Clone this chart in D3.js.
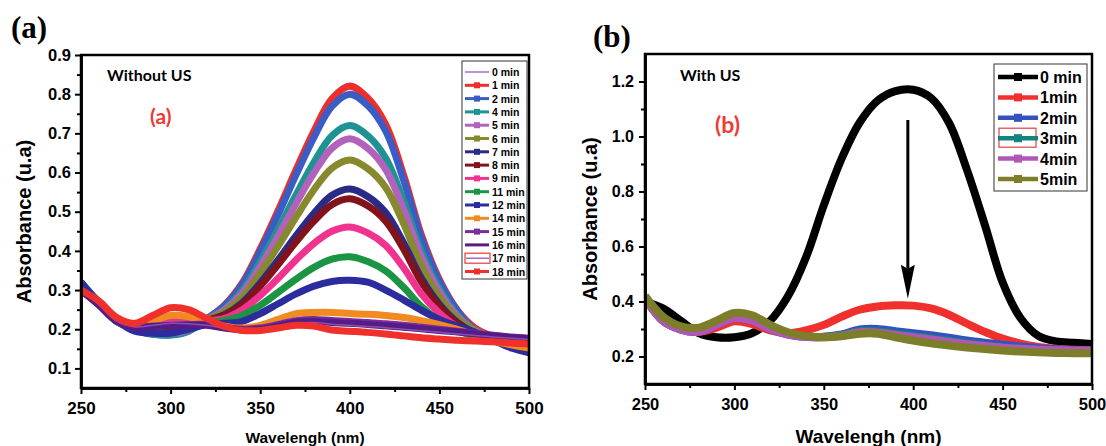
<!DOCTYPE html>
<html>
<head>
<meta charset="utf-8">
<script src="https://cdn.jsdelivr.net/npm/d3@7"></script>
<style>
body { margin: 0; background: #fff; }
svg { display: block; }
</style>
</head>
<body>
<div id="chart"></div>
<script>
const width = 1106, height = 446;

// wavelengths (nm) the curves are sampled at
const wavelengths = [250, 260, 270, 280, 290, 300, 310, 320, 330, 340, 350, 360, 370,
                     380, 390, 400, 410, 420, 430, 440, 450, 460, 470, 480, 490, 500];

// panel (a) without US - absorbance per time
const a00 = [0.31, 0.27, 0.226, 0.2, 0.19, 0.188, 0.198, 0.226, 0.263, 0.322, 0.41, 0.51, 0.615, 0.715, 0.797, 0.828, 0.798, 0.73, 0.6, 0.444, 0.33, 0.25, 0.204, 0.183, 0.175, 0.166];
const a01 = [0.305, 0.268, 0.225, 0.2, 0.19, 0.188, 0.198, 0.225, 0.261, 0.318, 0.405, 0.503, 0.607, 0.706, 0.788, 0.82, 0.79, 0.723, 0.594, 0.44, 0.327, 0.249, 0.203, 0.182, 0.174, 0.165];
const a02 = [0.32, 0.27, 0.225, 0.198, 0.187, 0.185, 0.195, 0.226, 0.259, 0.314, 0.398, 0.493, 0.594, 0.69, 0.769, 0.8, 0.771, 0.706, 0.581, 0.432, 0.322, 0.247, 0.195, 0.172, 0.158, 0.15];
const a04 = [0.31, 0.27, 0.225, 0.198, 0.188, 0.186, 0.196, 0.224, 0.252, 0.299, 0.372, 0.455, 0.543, 0.626, 0.694, 0.72, 0.694, 0.637, 0.528, 0.398, 0.303, 0.237, 0.198, 0.18, 0.172, 0.165];
const a05 = [0.31, 0.268, 0.225, 0.2, 0.19, 0.19, 0.198, 0.224, 0.249, 0.292, 0.36, 0.438, 0.521, 0.599, 0.662, 0.686, 0.662, 0.608, 0.506, 0.384, 0.295, 0.233, 0.196, 0.18, 0.172, 0.166];
const a06 = [0.305, 0.268, 0.225, 0.2, 0.192, 0.195, 0.2, 0.224, 0.244, 0.282, 0.343, 0.412, 0.486, 0.556, 0.611, 0.632, 0.61, 0.562, 0.47, 0.361, 0.282, 0.227, 0.194, 0.179, 0.172, 0.167];
const a07 = [0.305, 0.265, 0.222, 0.202, 0.2, 0.202, 0.205, 0.222, 0.237, 0.268, 0.318, 0.377, 0.439, 0.496, 0.542, 0.558, 0.539, 0.498, 0.421, 0.33, 0.264, 0.218, 0.19, 0.177, 0.17, 0.166];
const a08 = [0.3, 0.265, 0.222, 0.203, 0.202, 0.205, 0.208, 0.222, 0.235, 0.263, 0.31, 0.365, 0.423, 0.476, 0.518, 0.533, 0.515, 0.476, 0.405, 0.32, 0.258, 0.215, 0.189, 0.176, 0.17, 0.166];
const a09 = [0.3, 0.262, 0.22, 0.208, 0.215, 0.225, 0.222, 0.222, 0.228, 0.25, 0.286, 0.33, 0.377, 0.419, 0.45, 0.461, 0.446, 0.414, 0.357, 0.29, 0.241, 0.206, 0.185, 0.174, 0.169, 0.165];
const a11 = [0.3, 0.262, 0.22, 0.203, 0.205, 0.21, 0.212, 0.218, 0.222, 0.235, 0.261, 0.294, 0.328, 0.358, 0.379, 0.385, 0.373, 0.349, 0.307, 0.258, 0.222, 0.197, 0.181, 0.172, 0.168, 0.165];
const a12 = [0.32, 0.265, 0.222, 0.195, 0.19, 0.19, 0.2, 0.212, 0.215, 0.22, 0.24, 0.265, 0.29, 0.31, 0.322, 0.325, 0.32, 0.3, 0.275, 0.248, 0.225, 0.208, 0.192, 0.172, 0.152, 0.14];
const a14 = [0.3, 0.265, 0.222, 0.21, 0.222, 0.235, 0.232, 0.22, 0.208, 0.203, 0.21, 0.225, 0.24, 0.243, 0.243, 0.24, 0.238, 0.235, 0.23, 0.222, 0.212, 0.2, 0.185, 0.17, 0.16, 0.152];
const a15 = [0.3, 0.262, 0.22, 0.205, 0.208, 0.21, 0.212, 0.212, 0.205, 0.2, 0.203, 0.212, 0.222, 0.225, 0.222, 0.22, 0.217, 0.214, 0.21, 0.205, 0.2, 0.195, 0.19, 0.185, 0.18, 0.177];
const a16 = [0.3, 0.262, 0.22, 0.205, 0.207, 0.208, 0.21, 0.21, 0.203, 0.198, 0.2, 0.208, 0.218, 0.22, 0.217, 0.215, 0.212, 0.209, 0.205, 0.201, 0.197, 0.193, 0.188, 0.183, 0.179, 0.176];
const a17 = [0.3, 0.262, 0.22, 0.206, 0.21, 0.215, 0.214, 0.21, 0.203, 0.197, 0.199, 0.206, 0.215, 0.217, 0.213, 0.21, 0.207, 0.204, 0.2, 0.196, 0.192, 0.188, 0.184, 0.18, 0.177, 0.174];
const a18 = [0.3, 0.272, 0.23, 0.215, 0.235, 0.255, 0.25, 0.228, 0.207, 0.197, 0.197, 0.203, 0.21, 0.208, 0.198, 0.195, 0.192, 0.188, 0.183, 0.178, 0.175, 0.172, 0.17, 0.168, 0.165, 0.162];

const labelsA = ["0 min", "1 min", "2 min", "4 min", "5 min", "6 min", "7 min", "8 min", "9 min",
                 "11 min", "12 min", "14 min", "15 min", "16 min", "17 min", "18 min"];
const colorsA = ["#a070c8", "#ee2e2a", "#3b5cc4", "#1f9393", "#b262bc", "#868a2c", "#2b2a86", "#82121c",
                 "#f0338f", "#1b9444", "#2c2c9e", "#f28a22", "#7b2c9c", "#561c86", "#8a4cb0", "#f0312b"];

// panel (b) with US
const b0 = [0.40, 0.375, 0.33, 0.285, 0.27, 0.27, 0.285, 0.33, 0.42, 0.56, 0.75, 0.92, 1.05, 1.13, 1.165, 1.17, 1.14, 1.05, 0.88, 0.68, 0.47, 0.34, 0.275, 0.255, 0.25, 0.245];
const b1 = [0.41, 0.33, 0.3, 0.29, 0.305, 0.328, 0.318, 0.295, 0.285, 0.295, 0.315, 0.345, 0.37, 0.382, 0.386, 0.385, 0.375, 0.352, 0.32, 0.29, 0.265, 0.247, 0.235, 0.228, 0.225, 0.222];
const b2 = [0.42, 0.33, 0.298, 0.29, 0.315, 0.34, 0.33, 0.3, 0.28, 0.272, 0.272, 0.28, 0.298, 0.3, 0.292, 0.285, 0.277, 0.268, 0.258, 0.25, 0.243, 0.236, 0.23, 0.226, 0.223, 0.222];
const b3 = [0.415, 0.33, 0.3, 0.292, 0.318, 0.343, 0.332, 0.302, 0.281, 0.272, 0.271, 0.278, 0.292, 0.292, 0.283, 0.275, 0.266, 0.257, 0.248, 0.24, 0.233, 0.228, 0.224, 0.221, 0.219, 0.218];
const b4 = [0.415, 0.33, 0.298, 0.29, 0.315, 0.34, 0.33, 0.3, 0.28, 0.271, 0.27, 0.276, 0.288, 0.287, 0.278, 0.27, 0.262, 0.253, 0.245, 0.238, 0.232, 0.228, 0.225, 0.223, 0.222, 0.222];
const b5 = [0.42, 0.345, 0.31, 0.305, 0.33, 0.358, 0.35, 0.315, 0.288, 0.274, 0.27, 0.274, 0.283, 0.283, 0.27, 0.258, 0.248, 0.24, 0.233, 0.227, 0.222, 0.218, 0.215, 0.213, 0.212, 0.212];

const labelsB = ["0 min", "1min", "2min", "3min", "4min", "5min"];
const colorsB = ["#000000", "#f0302c", "#3352c0", "#12847f", "#b156b6", "#7d7e2a"];

// arrow in panel (b): wavelength, absorbance from -> to
const arrowB = [[397, 1.06], [397, 0.41]];

const xTicks = [250, 300, 350, 400, 450, 500];
const xMinor = [275, 325, 375, 425, 475];
const yTicksA = [0.1, 0.2, 0.3, 0.4, 0.5, 0.6, 0.7, 0.8, 0.9];
const yMinorA = [0.15, 0.25, 0.35, 0.45, 0.55, 0.65, 0.75, 0.85];
const yTicksB = [0.2, 0.4, 0.6, 0.8, 1.0, 1.2];
const yMinorB = [0.3, 0.5, 0.7, 0.9, 1.1];

const svg = d3.select("#chart").append("svg")
    .attr("width", width).attr("height", height)
    .attr("viewBox", [0, 0, width, height]);

const FONT = "'Liberation Sans', Arial, sans-serif";

function panel(p) {
    const x = d3.scaleLinear().domain([250, 500]).range([p.left, p.right]);
    const y = d3.scaleLinear().domain(p.yDomain).range([p.bottom, p.top]);
    const g = svg.append("g");

    g.append("clipPath").attr("id", p.id + "clip")
      .append("rect").attr("x", p.left).attr("y", p.top)
      .attr("width", p.right - p.left).attr("height", p.bottom - p.top);

    const line = d3.line()
        .x((d, i) => x(wavelengths[i]))
        .y(d => y(d))
        .curve(d3.curveCatmullRom.alpha(0.5));

    g.append("g").attr("clip-path", `url(#${p.id}clip)`)
      .selectAll("path")
      .data(p.series)
      .join("path")
      .attr("d", s => line(s.values))
      .attr("fill", "none")
      .attr("stroke", s => s.color)
      .attr("stroke-width", s => s.w)
      .attr("stroke-linejoin", "round");

    // frame
    g.append("rect")
      .attr("x", p.left).attr("y", p.top)
      .attr("width", p.right - p.left).attr("height", p.bottom - p.top)
      .attr("fill", "none").attr("stroke", "#000").attr("stroke-width", 2.5);

    const xa = g.append("g").attr("transform", `translate(0,${p.bottom})`)
      .call(d3.axisBottom(x).tickValues(xTicks).tickSize(6).tickSizeOuter(0).tickPadding(p.xPad));
    g.append("g").attr("transform", `translate(0,${p.bottom})`)
      .call(d3.axisBottom(x).tickValues(xMinor).tickSize(4).tickSizeOuter(0).tickFormat(""));
    const ya = g.append("g").attr("transform", `translate(${p.left},0)`)
      .call(d3.axisLeft(y).tickValues(p.yTicks).tickSize(6).tickSizeOuter(0).tickPadding(p.yPad)
            .tickFormat(d3.format(".1f")));
    g.append("g").attr("transform", `translate(${p.left},0)`)
      .call(d3.axisLeft(y).tickValues(p.yMinor).tickSize(4).tickSizeOuter(0).tickFormat(""));

    g.selectAll(".domain").attr("stroke-width", 2.5);
    g.selectAll(".tick line").attr("stroke-width", 2);
    xa.selectAll("text").attr("font-family", FONT).attr("font-weight", "bold").attr("font-size", p.xFont);
    ya.selectAll("text").attr("font-family", FONT).attr("font-weight", "bold").attr("font-size", p.yFont);

    g.append("text")
      .attr("x", (p.left + p.right) / 2).attr("y", 443)
      .attr("text-anchor", "middle")
      .attr("font-family", FONT).attr("font-weight", "bold").attr("font-size", p.xTitleFont)
      .text("Wavelengh (nm)");

    g.append("text")
      .attr("transform", `translate(${p.yTitleX},${(p.top + p.bottom) / 2}) rotate(-90)`)
      .attr("text-anchor", "middle")
      .attr("font-family", FONT).attr("font-weight", "bold").attr("font-size", 20)
      .text("Absorbance (u.a)");

    return { x, y, g };
}

// ---------- panel (a) ----------
const valuesA = [a00, a01, a02, a04, a05, a06, a07, a08, a09, a11, a12, a14, a15, a16, a17, a18];
const seriesA = labelsA.map((l, i) => ({
    label: l, values: valuesA[i], color: colorsA[i],
    w: (i === 0 || i === 14) ? 1.5 : 7
}));

const pa = panel({
    id: "a", left: 81, right: 529, top: 55, bottom: 388,
    yDomain: [0.05, 0.9], yTicks: yTicksA, yMinor: yMinorA,
    series: seriesA, xPad: 8, yPad: 4, xFont: 17, yFont: 16.5, xTitleFont: 15.5, yTitleX: 31
});

// legend (a)
const legA = svg.append("g");
legA.append("rect").attr("x", 462).attr("y", 61).attr("width", 65).attr("height", 218)
    .attr("fill", "#fff").attr("stroke", "#333").attr("stroke-width", 1);
seriesA.forEach((s, i) => {
    const yy = 72 + i * 13.3;
    const row = legA.append("g");
    if (i === 14) {
        row.append("rect").attr("x", 465).attr("y", yy - 5).attr("width", 25).attr("height", 10)
            .attr("fill", "none").attr("stroke", "#e83a3a").attr("stroke-width", 1.2);
        row.append("line").attr("x1", 466).attr("x2", 489).attr("y1", yy).attr("y2", yy)
            .attr("stroke", s.color).attr("stroke-width", 1.2);
    } else {
        row.append("line").attr("x1", 465).attr("x2", 489).attr("y1", yy).attr("y2", yy)
            .attr("stroke", s.color).attr("stroke-width", i === 0 ? 1.5 : 3);
        if (i !== 0 && i !== 13) {
            row.append("rect").attr("x", 474).attr("y", yy - 3).attr("width", 6).attr("height", 6)
                .attr("fill", s.color);
        }
    }
    row.append("text").attr("x", 492).attr("y", yy + 4)
        .attr("font-family", FONT).attr("font-weight", "bold").attr("font-size", 10.5)
        .text(s.label);
});

// ---------- panel (b) ----------
const valuesB = [b0, b1, b2, b3, b4, b5];
const seriesB = labelsB.map((l, i) => ({ label: l, values: valuesB[i], color: colorsB[i], w: 8 }));

const pb = panel({
    id: "b", left: 645, right: 1092, top: 54, bottom: 384,
    yDomain: [0.1, 1.3], yTicks: yTicksB, yMinor: yMinorB,
    series: seriesB, xPad: 8, yPad: 5, xFont: 16.5, yFont: 16, xTitleFont: 19, yTitleX: 597
});

// arrow
const ax = pb.x(arrowB[0][0]), ay0 = pb.y(arrowB[0][1]), ay1 = pb.y(arrowB[1][1]);
svg.append("line").attr("x1", ax).attr("x2", ax).attr("y1", ay0).attr("y2", ay1 - 30)
    .attr("stroke", "#000").attr("stroke-width", 3);
svg.append("path")
    .attr("d", `M${ax - 7},${ay1 - 34} L${ax},${ay1 - 30} L${ax + 7},${ay1 - 34} L${ax},${ay1} Z`)
    .attr("fill", "#000");

// legend (b)
const legB = svg.append("g");
legB.append("rect").attr("x", 994).attr("y", 64).attr("width", 93).attr("height", 127)
    .attr("fill", "#fff").attr("stroke", "#333").attr("stroke-width", 1);
seriesB.forEach((s, i) => {
    const yy = 77 + i * 20.4;
    if (i === 3) {
        legB.append("rect").attr("x", 999).attr("y", yy - 10).attr("width", 37).attr("height", 19)
            .attr("fill", "none").attr("stroke", "#e04040").attr("stroke-width", 1.2);
    }
    legB.append("line").attr("x1", 998).attr("x2", 1038).attr("y1", yy).attr("y2", yy)
        .attr("stroke", s.color).attr("stroke-width", 4.5);
    legB.append("rect").attr("x", 1014).attr("y", yy - 4).attr("width", 8).attr("height", 8)
        .attr("fill", s.color);
    legB.append("text").attr("x", 1040).attr("y", yy + 6)
        .attr("font-family", FONT).attr("font-weight", "bold").attr("font-size", 16)
        .text(s.label);
});

// panel letters and notes
svg.append("text").attr("x", 11).attr("y", 38)
    .attr("font-family", "'Liberation Serif', 'Times New Roman', serif").attr("font-weight", "bold")
    .attr("font-size", 31).text("(a)");
svg.append("text").attr("x", 593).attr("y", 47)
    .attr("font-family", "'Liberation Serif', 'Times New Roman', serif").attr("font-weight", "bold")
    .attr("font-size", 31).text("(b)");

svg.append("text").attr("x", 107).attr("y", 81)
    .attr("font-family", "Lato, 'Open Sans', sans-serif").attr("font-weight", "bold")
    .attr("font-size", 16).text("Without US");
svg.append("text").attr("x", 150).attr("y", 124)
    .attr("font-family", "Lato, 'Open Sans', sans-serif").attr("font-weight", "bold")
    .attr("font-size", 21).attr("fill", "#ee3b33").text("(a)");
svg.append("text").attr("x", 680).attr("y", 81)
    .attr("font-family", "Lato, 'Open Sans', sans-serif").attr("font-weight", "bold")
    .attr("font-size", 16).text("With US");
svg.append("text").attr("x", 715).attr("y", 133)
    .attr("font-family", "Lato, 'Open Sans', sans-serif").attr("font-weight", "bold")
    .attr("font-size", 23).attr("fill", "#ee3b33").text("(b)");
</script>
</body>
</html>
